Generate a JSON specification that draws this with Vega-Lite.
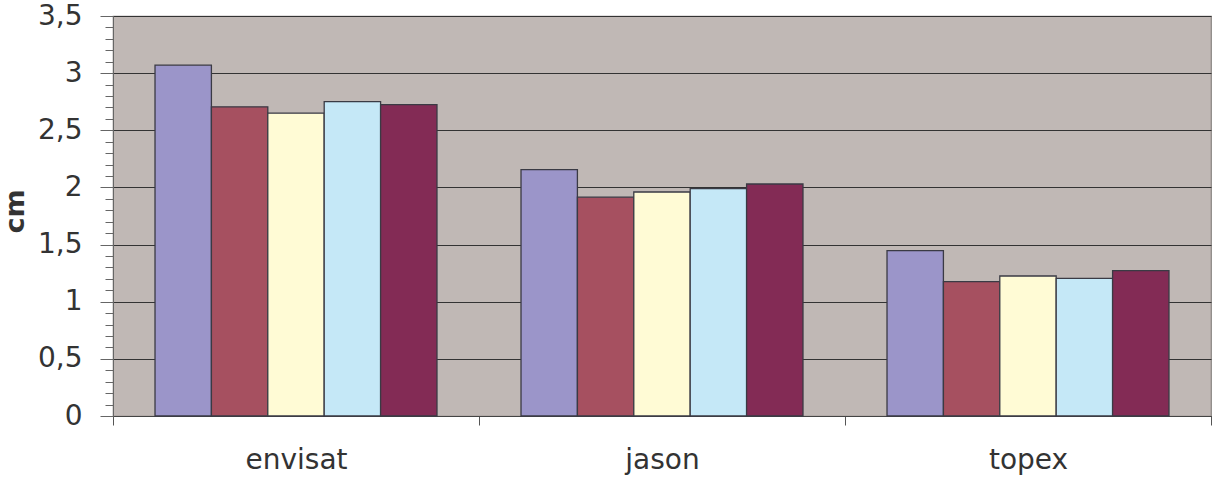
{
  "$schema": "https://vega.github.io/schema/vega-lite/v6.json",
  "autosize": {"type": "none"},
  "padding": {"left": 113, "top": 16, "right": 2, "bottom": 62},
  "width": 1098,
  "height": 400,
  "background": "white",
  "data": {
    "values": [
      {"satellite": "envisat", "series": "s1", "value": 3.07},
      {"satellite": "envisat", "series": "s2", "value": 2.705},
      {"satellite": "envisat", "series": "s3", "value": 2.65},
      {"satellite": "envisat", "series": "s4", "value": 2.75},
      {"satellite": "envisat", "series": "s5", "value": 2.725},
      {"satellite": "jason", "series": "s1", "value": 2.155},
      {"satellite": "jason", "series": "s2", "value": 1.915},
      {"satellite": "jason", "series": "s3", "value": 1.96},
      {"satellite": "jason", "series": "s4", "value": 1.99},
      {"satellite": "jason", "series": "s5", "value": 2.03},
      {"satellite": "topex", "series": "s1", "value": 1.447},
      {"satellite": "topex", "series": "s2", "value": 1.176},
      {"satellite": "topex", "series": "s3", "value": 1.225},
      {"satellite": "topex", "series": "s4", "value": 1.205},
      {"satellite": "topex", "series": "s5", "value": 1.272}
    ]
  },
  "mark": {"type": "bar", "stroke": "#3a3a44", "strokeWidth": 1.3, "opacity": 1},
  "encoding": {
    "x": {
      "field": "satellite",
      "type": "nominal",
      "scale": {"paddingInner": 0, "paddingOuter": 0},
      "axis": {
        "title": null,
        "labelAngle": 0,
        "tickBand": "extent",
        "tickSize": 9,
        "tickColor": "#555",
        "domainColor": "#444",
        "labelPadding": 21,
        "labelFont": "DejaVu Sans",
        "labelFontSize": 28,
        "labelColor": "#333"
      }
    },
    "xOffset": {
      "field": "series",
      "type": "nominal",
      "scale": {"paddingInner": 0, "paddingOuter": 0.745}
    },
    "y": {
      "field": "value",
      "type": "quantitative",
      "scale": {"domain": [0, 3.5], "nice": false},
      "axis": {
        "title": "cm",
        "titleFont": "DejaVu Sans",
        "titleFontSize": 27,
        "titleFontWeight": "bold",
        "titleColor": "#333",
        "titleX": -98,
        "titleY": 195,
        "titleAlign": "center",
        "titleBaseline": "middle",
        "values": [0, 0.1, 0.2, 0.3, 0.4, 0.5, 0.6, 0.7, 0.8, 0.9, 1, 1.1, 1.2, 1.3, 1.4, 1.5, 1.6, 1.7, 1.8, 1.9, 2, 2.1, 2.2, 2.3, 2.4, 2.5, 2.6, 2.7, 2.8, 2.9, 3, 3.1, 3.2, 3.3, 3.4, 3.5],
        "labelExpr": "abs(datum.value * 2 - round(datum.value * 2)) < 0.01 ? replace(format(datum.value, '~g'), '.', ',') : ''",
        "labelOverlap": false,
        "labelFont": "DejaVu Sans",
        "labelFontSize": 28,
        "labelColor": "#333",
        "labelPadding": 18,
        "tickSize": {"condition": {"test": "abs(datum.value * 2 - round(datum.value * 2)) < 0.01", "value": 13}, "value": 8},
        "tickColor": "#666",
        "domainColor": "#666",
        "grid": true,
        "gridColor": "#333",
        "gridWidth": 1.2,
        "gridOpacity": {"condition": {"test": "abs(datum.value * 2 - round(datum.value * 2)) < 0.01", "value": 1}, "value": 0}
      }
    },
    "color": {
      "field": "series",
      "type": "nominal",
      "legend": null,
      "scale": {"range": ["#9B95C9", "#A65060", "#FFFBD5", "#C5E8F7", "#832B55"]}
    }
  },
  "config": {
    "view": {"fill": "#C0B8B5", "stroke": "#8a8582", "strokeWidth": 1.2}
  }
}
